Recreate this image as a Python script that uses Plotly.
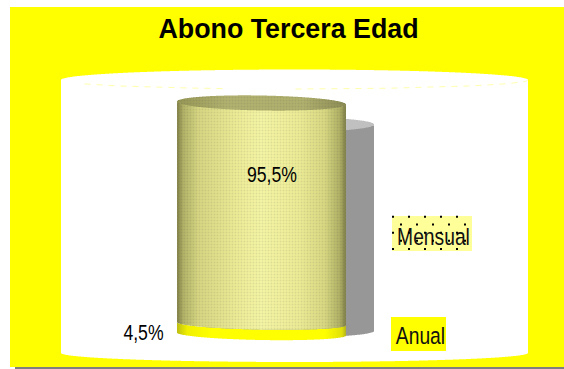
import numpy as np
import plotly.graph_objects as go

# ---- data ----
categories = ["Anual", "Mensual"]
values = [4.5, 95.5]
labels = ["4,5%", "95,5%"]
title_text = "Abono Tercera Edad"

# ---- pixel frame helpers (style only) ----
W, H = 564, 369
PX_ZERO, PX_FULL = 334.0, 103.0          # pixel rows of value 0 and value 100
UNIT = (PX_ZERO - PX_FULL) / 100.0
def val(px_y):
    return (PX_ZERO - px_y) / UNIT

CX, RX = 261.5, 84.5                     # cylinder centre, half width
RY_TOP, RY_BOT = 7.5, 6.0
TILT = 1.5                               # px drop on the left side

xs = np.arange(CX - RX + 0.5, CX + RX, 1.0)
u = (xs - CX) / RX
arc = np.sqrt(np.clip(1 - u * u, 0, 1))
tilt = -u * TILT / UNIT                  # right side sits higher


def shade(stops, u):
    pos = [s[0] for s in stops]
    rgb = np.array([s[1] for s in stops], float)
    out = np.stack([np.interp(u, pos, rgb[:, i]) for i in range(3)], 1)
    return [f"rgb({int(r)},{int(g)},{int(b)})" for r, g, b in out]

BODY = [(-1, (130, 130, 72)), (-0.92, (180, 180, 105)), (-0.75, (214, 214, 130)), (-0.3, (236, 236, 150)),
        (0.0, (245, 245, 165)), (0.45, (236, 236, 150)), (0.75, (216, 216, 130)), (0.93, (175, 175, 100)), (1, (125, 125, 72))]
CAP = [(-1, (150, 150, 85)), (-0.4, (178, 178, 112)), (0.5, (176, 176, 110)), (1, (140, 140, 85))]
BAND = [(-1, (190, 190, 20)), (-0.88, (240, 240, 0)), (-0.6, (255, 255, 0)), (0.75, (255, 255, 0)), (0.95, (225, 225, 10)), (1, (180, 180, 30))]

def ry_at(v):
    return (RY_BOT + (RY_TOP - RY_BOT) * v / 100.0) * arc / UNIT

v0, v1 = values
top = v0 + v1
fig = go.Figure()

# back wall: white drum, one bar per pixel column
WCX, WRX = 294.5, 233.5
wxs = np.arange(WCX - WRX + 0.5, WCX + WRX, 1.0)
wu = (wxs - WCX) / WRX
warc = np.sqrt(1 - wu * wu)
wall_top = val(80) + 10.5 / UNIT * warc
wall_bot = val(353) - 9.0 / UNIT * warc
fig.add_trace(go.Bar(x=wxs, y=wall_top - wall_bot, base=wall_bot, width=1.0,
                     marker=dict(color="white", line_width=0), hoverinfo="skip"))

# shadow cylinder
SX, SRX = 290.0, 84.0
sxs = np.arange(SX - SRX + 0.5, SX + SRX, 1.0)
su = (sxs - SX) / SRX
sarc = np.sqrt(1 - su * su)
s_top, s_bot = val(124.5), val(331.0)
fig.add_trace(go.Bar(x=sxs, y=s_top - s_bot + 6.5 / UNIT * sarc, base=s_bot - 6.5 / UNIT * sarc, width=1.0,
                     marker=dict(color="#979797", line_width=0), hoverinfo="skip"))
fig.add_trace(go.Bar(x=sxs, y=15 / UNIT * sarc, base=s_top - 7.5 / UNIT * sarc, width=1.0,
                     marker=dict(color="#c0c0c0", line_width=0), hoverinfo="skip"))

# series: stacked cylinder segments, one bar per 1px column
texture = dict(shape=".", size=3, solidity=0.3, fgcolor="#787832", fgopacity=0.12, fillmode="overlay")
fig.add_trace(go.Bar(x=xs, y=np.full_like(xs, v0), base=tilt - ry_at(0), width=1.0, name=categories[0],
                     marker=dict(color=shade(BAND, u), line_width=0), hoverinfo="skip"))
fig.add_trace(go.Bar(x=xs, y=np.full_like(xs, v1), base=tilt + v0 - ry_at(v0), width=1.0, name=categories[1],
                     marker=dict(color=shade(BODY, u), line_width=0, pattern=texture), hoverinfo="skip"))
fig.add_trace(go.Bar(x=xs, y=2 * ry_at(top), base=tilt + top - ry_at(top), width=1.0, name="tapa",
                     marker=dict(color=shade(CAP, u), line_width=0, pattern=texture), hoverinfo="skip"))

# legend keys
fig.add_trace(go.Bar(x=[432], y=[val(216) - val(251)], base=[val(251)], width=80,
                     marker=dict(color="#ffff99", line_width=0), hoverinfo="skip"))
fig.add_trace(go.Bar(x=[418.5], y=[val(317) - val(351)], base=[val(351)], width=55,
                     marker=dict(color="#ffff00", line_width=0), hoverinfo="skip"))

# faint front rim of the drum
for lo, hi in ((-0.9, -0.3), (0.0, 1.0)):
    m = (wu > lo) & (wu < hi)
    fig.add_trace(go.Scatter(x=wxs[m], y=val(80) - 9.0 / UNIT * warc[m], mode="lines",
                             line=dict(color="rgba(255,255,120,0.6)", width=1, dash="6px,6px"), hoverinfo="skip"))

# data labels
fig.add_trace(go.Scatter(x=[272, 143.5], y=[val(177), val(335)], mode="text", text=[labels[1], labels[0]],
                         textfont=dict(family="Liberation Sans", size=21.5, color="black"), hoverinfo="skip"))
# legend labels
fig.add_trace(go.Scatter(x=[433.5, 420.5], y=[val(239), val(338)], mode="text", text=[categories[1], categories[0]],
                         textfont=dict(family="Liberation Sans", size=23.5, color="#111"), hoverinfo="skip"))
# dotted key pattern on top of the Mensual label
dot_x, dot_y = [], []
for i, row in enumerate([216.7, 224.5, 232.7, 240.7, 249.0]):
    for c in range(5):
        dot_x.append(393 + 16 * c + (8 if i % 2 else 0))
        dot_y.append(val(row))
fig.add_trace(go.Scatter(x=dot_x, y=dot_y, mode="markers", marker=dict(symbol="square", size=2, color="black"), hoverinfo="skip"))

fig.update_layout(
    width=W, height=H, autosize=False, showlegend=False, barmode="overlay",
    margin=dict(l=0, r=0, t=0, b=0), paper_bgcolor="white", plot_bgcolor="rgba(0,0,0,0)",
    title=dict(text=title_text, x=288.5 / W, xanchor="center", y=1 - 28.5 / H, yanchor="middle",
               font=dict(family="Liberation Sans", size=26.8, color="black", weight="bold")),
    xaxis=dict(range=[0, W], visible=False, fixedrange=True),
    yaxis=dict(range=[val(H), val(0)], visible=False, fixedrange=True),
    shapes=[
        dict(type="rect", xref="paper", yref="paper", x0=10 / W, x1=1, y0=1 - 367 / H, y1=1 - 7 / H,
             fillcolor="#ffff00", line_width=0, layer="below"),
        dict(type="rect", xref="paper", yref="paper", x0=15 / W, x1=1, y0=0, y1=1 - 367 / H,
             fillcolor="#7f7f7f", line_width=0, layer="below"),
    ],
)
narrow = """
document.body.style.margin='0';document.body.style.overflow='hidden';
document.querySelectorAll('.textpoint text').forEach(function(t){
  t.style.transformBox='fill-box';t.style.transformOrigin='center';t.style.transform='scaleX(0.82)';
});
"""
fig.write_html("out.html", config={"displayModeBar": False}, post_script=narrow)
